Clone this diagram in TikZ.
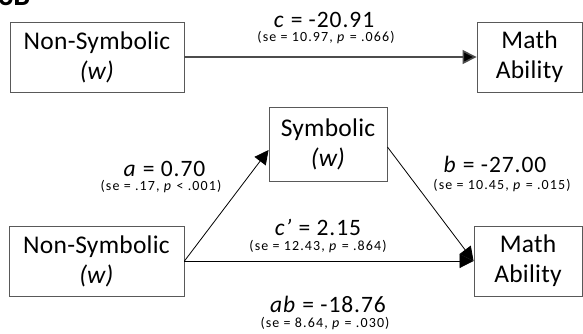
\documentclass[tikz,border=0pt]{standalone}
\usepackage{fontspec}
\setmainfont{Carlito}
\usetikzlibrary{arrows.meta,calc}
\tikzset{
  box/.style={draw=black!65, line width=0.9pt, fill=white, align=center, inner sep=0pt,
    font=\fontsize{25.5}{30}\selectfont\addfontfeature{LetterSpace=1}},
  big/.style={anchor=base, font=\fontsize{23.5}{24}\selectfont\addfontfeature{LetterSpace=4},
    inner sep=0pt, text depth=0pt},
  small/.style={anchor=base, font=\fontsize{14}{15}\selectfont\addfontfeature{LetterSpace=8},
    inner sep=0pt, text height=0.72em, text depth=0.2em},
  arr/.style={line width=0.8pt, -{Triangle[length=14pt,width=14pt]}},
  toparr/.style={draw=black!70, line width=1.6pt, -{Triangle[length=14pt,width=14pt,fill=black]}},
}
\begin{document}
\begin{tikzpicture}[x=1pt,y=-1pt]
\useasboundingbox (0,0) rectangle (583,333);
% cropped panel label
\node[anchor=base west, inner sep=0pt, font=\fontsize{30}{30}\bfseries\selectfont] (lbl) at (-2,5) {3B};
% top model
\node[box, minimum width=174pt, minimum height=70pt] (ns1) at (97,57) {Non-Symbolic\\\textit{(w)}};
\node[box, minimum width=105pt, minimum height=70pt] (m1) at (529.5,57) {Math\\Ability};
\draw[toparr] (ns1.east) -- (m1.west);
\node[big] (cl) at (324,27.5) {\textit{c} = -20.91};
\node[small] (cs) at (326,41.5) {(se = 10.97, \textit{p} = .066)};
% bottom model
\node[box, minimum width=118pt, minimum height=74pt] (sym) at (328,144) {Symbolic\\\textit{(w)}};
\node[box, minimum width=175pt, minimum height=70pt] (ns2) at (96.5,261) {Non-Symbolic\\\textit{(w)}};
\node[box, minimum width=108pt, minimum height=70pt] (m2) at (528,261) {Math\\Ability};
\coordinate (aend) at ($(sym.west)+(0,6)$);
\coordinate (bstart) at ($(sym.east)+(0,3)$);
\draw[arr] (ns2.east) -- (aend);
\draw[arr] (bstart) -- (m2.west);
\draw[arr] (ns2.east) -- (m2.west);
\node[big] (al) at (164.5,176.5) {\textit{a} = 0.70};
\node[small] (as) at (161,190) {(se = .17, \textit{p} < .001)};
\node[big] (bl) at (495,172.5) {\textit{b} = -27.00};
\node[small] (bs) at (502,189) {(se = 10.45, \textit{p} = .015)};
\node[big] (cpl) at (318,235.5) {\textit{c’} = 2.15};
\node[small] (cps) at (318,250) {(se = 12.43, \textit{p} = .864)};
\node[big] (abl) at (328,312.5) {\textit{ab} = -18.76};
\node[small] (abs) at (325,327) {(se = 8.64, \textit{p} = .030)};
\end{tikzpicture}
\end{document}
